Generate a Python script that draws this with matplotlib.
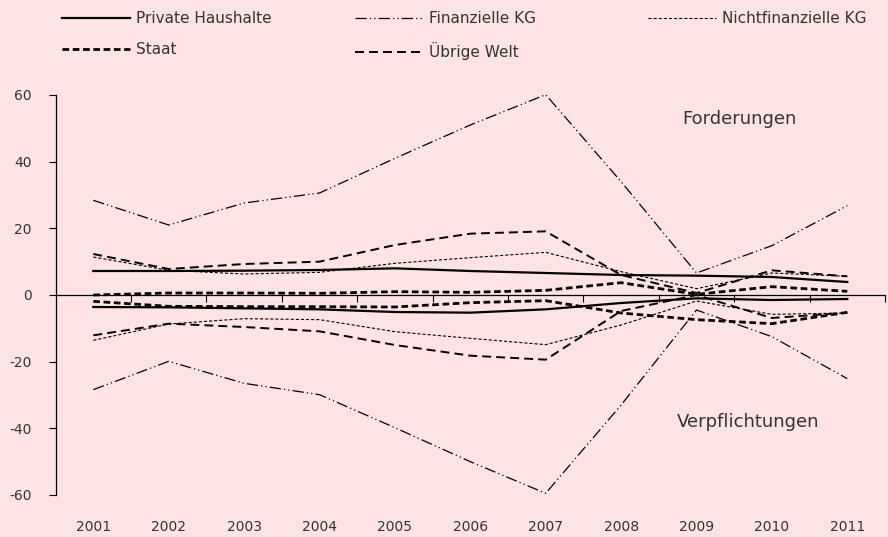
import matplotlib
matplotlib.use("Agg")
import matplotlib.pyplot as plt
from matplotlib.ticker import FixedLocator, NullFormatter

# Sector financial flows, assets (Forderungen) and liabilities (Verpflichtungen)
years = ["2001", "2002", "2003", "2004", "2005", "2006",
         "2007", "2008", "2009", "2010", "2011"]

haushalte_ford = [7.2, 7.2, 7.3, 7.5, 8.0, 7.2, 6.6, 6.0, 5.8, 5.4, 3.9]
haushalte_verb = [-3.6, -3.7, -4.0, -4.3, -5.1, -5.3, -4.3, -2.4, -1.0, -1.5, -1.2]

fin_kg_ford = [28.4, 21.0, 27.6, 30.6, 41.0, 51.0, 60.1, 34.0, 6.6, 14.8, 26.8]
fin_kg_verb = [-28.4, -19.9, -26.5, -29.9, -39.8, -50.0, -59.5, -33.0, -4.5, -12.5, -25.1]

nfin_kg_ford = [11.4, 7.4, 6.3, 6.8, 9.5, 11.2, 12.8, 7.0, 1.9, 6.6, 5.6]
nfin_kg_verb = [-13.6, -8.7, -7.1, -7.4, -11.0, -13.0, -14.9, -9.0, -1.8, -5.8, -5.4]

staat_ford = [0.0, 0.6, 0.6, 0.5, 1.0, 0.8, 1.4, 3.7, 0.2, 2.5, 1.1]
staat_verb = [-1.9, -3.4, -3.5, -3.5, -3.6, -2.3, -1.7, -5.4, -7.4, -8.6, -5.2]

welt_ford = [12.3, 7.8, 9.3, 10.0, 15.0, 18.4, 19.1, 6.0, 0.6, 7.4, 5.6]
welt_verb = [-12.1, -8.6, -9.6, -10.9, -15.0, -18.2, -19.4, -4.8, 0.0, -6.9, -5.3]

y_ticks = [-60, -40, -20, 0, 20, 40, 60]

BG = "#fde3e4"
TXT = "#333333"
FONT = "DejaVu Sans"
plt.rcParams["font.family"] = [FONT]

fig = plt.figure(figsize=(8.88, 5.37), dpi=100, facecolor=BG)
ax = fig.add_axes([55.6 / 888, 42 / 537, (885 - 55.6) / 888, 400 / 537])
ax.set_facecolor(BG)

x = list(range(len(years)))

styles = {
    "Private Haushalte": dict(color="black", lw=1.6, linestyle="-"),
    "Finanzielle KG": dict(color="black", lw=0.9,
                           linestyle=(0, (9, 2.5, 1, 2.5, 1, 2.5))),
    "Nichtfinanzielle KG": dict(color="black", lw=0.8, linestyle=(0, (2.8, 1.8))),
    "Staat": dict(color="black", lw=2.0, linestyle=(0, (2.4, 1.3))),
    "Übrige Welt": dict(color="black", lw=1.4, linestyle=(0, (4.6, 2.6))),
}

series = [
    ("Private Haushalte", haushalte_ford, haushalte_verb),
    ("Finanzielle KG", fin_kg_ford, fin_kg_verb),
    ("Nichtfinanzielle KG", nfin_kg_ford, nfin_kg_verb),
    ("Staat", staat_ford, staat_verb),
    ("Übrige Welt", welt_ford, welt_verb),
]

handles = {}
for name, ford, verb in series:
    (h,) = ax.plot(x, ford, label=name, **styles[name])
    ax.plot(x, verb, **styles[name])
    handles[name] = h

ax.set_xlim(-0.5, len(years) - 0.5)
ax.set_ylim(-60, 60)

# y axis
ax.set_yticks(y_ticks)
ax.set_yticklabels([str(v) for v in y_ticks])
ax.tick_params(axis="y", direction="out", length=5, width=0.8, pad=12,
               labelsize=10, labelcolor=TXT, color="black")
ax.spines["left"].set_linewidth(0.9)

# horizontal axis line through zero with tick marks between categories
for s in ("top", "right"):
    ax.spines[s].set_visible(False)
ax.spines["bottom"].set_position(("data", 0))
ax.spines["bottom"].set_linewidth(0.9)
ax.xaxis.set_major_locator(FixedLocator(x))
ax.xaxis.set_major_formatter(NullFormatter())
ax.xaxis.set_minor_locator(FixedLocator([i + 0.5 for i in x]))
ax.tick_params(axis="x", which="major", length=0)
ax.tick_params(axis="x", which="minor", direction="out", length=5, width=0.8)

# year labels along the bottom edge
sec = ax.secondary_xaxis(0)
sec.set_xticks(x)
sec.set_xticklabels(years)
sec.tick_params(length=0, pad=18, labelsize=10, labelcolor=TXT)
sec.spines["bottom"].set_visible(False)

ax.text(0.755, 0.94, "Forderungen", transform=ax.transAxes, fontsize=13,
        color=TXT, ha="left", va="center")
ax.text(0.749, 0.183, "Verpflichtungen", transform=ax.transAxes, fontsize=13,
        color=TXT, ha="left", va="center")

# legend, one block per column
leg_kw = dict(frameon=False, loc="upper left", borderpad=0, borderaxespad=0,
              handlelength=4.45, handletextpad=0.4, labelspacing=1.05,
              fontsize=11, labelcolor=TXT)
cols = [
    (["Private Haushalte", "Staat"], 62),
    (["Finanzielle KG", "Übrige Welt"], 355),
    (["Nichtfinanzielle KG"], 648),
]
for names, xpix in cols:
    fig.legend([handles[n] for n in names], names,
               bbox_to_anchor=(xpix / 888, 1 - 11 / 537), **leg_kw)

fig.savefig("out.png", dpi=100, facecolor=BG)
